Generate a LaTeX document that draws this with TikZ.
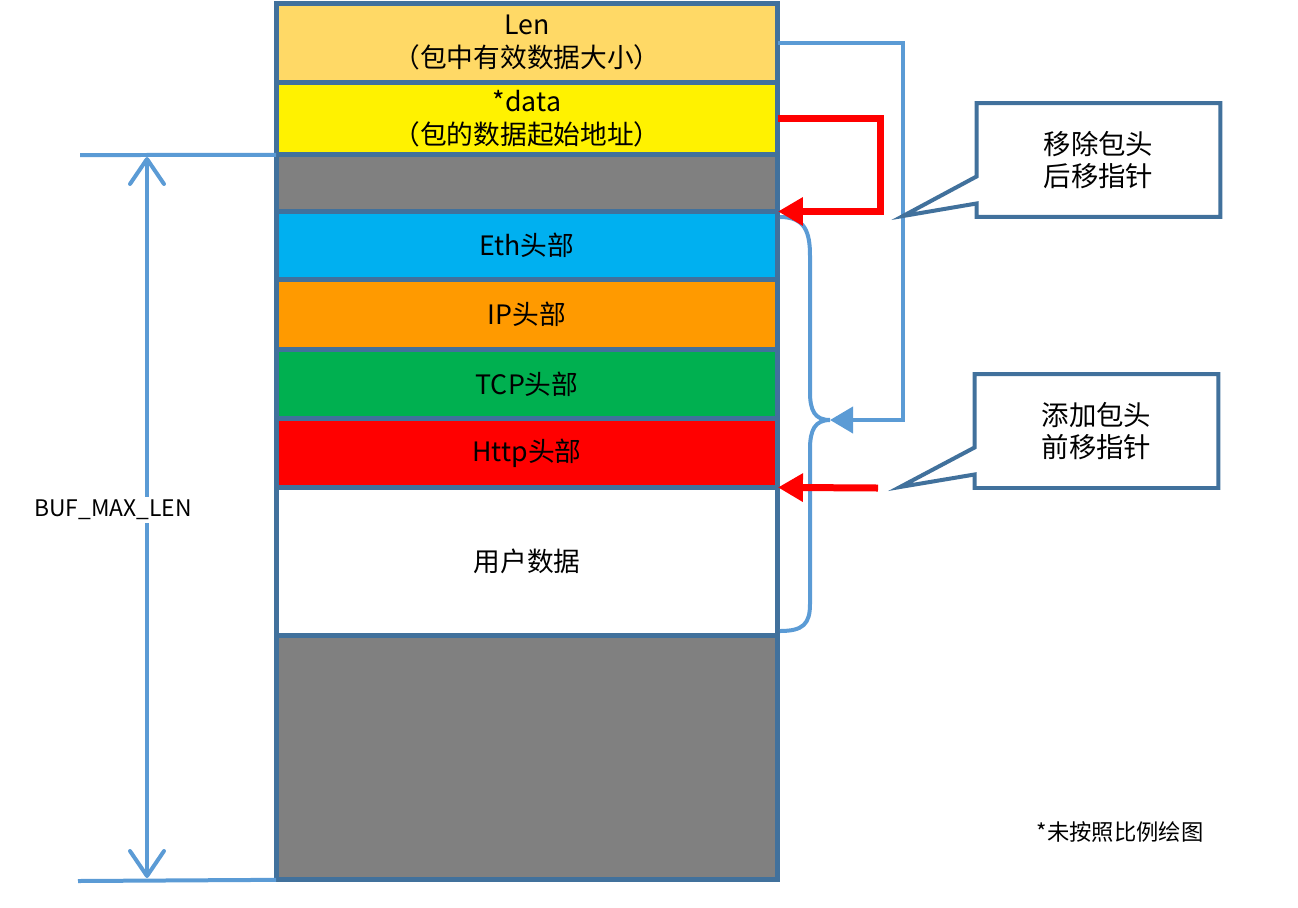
\documentclass[tikz,border=0pt]{standalone}
\usepackage{fontspec}
\setmainfont{Noto Sans CJK SC}
\usepackage{tikz}
\usetikzlibrary{arrows.meta, positioning, shapes.callouts}
\definecolor{borderblue}{RGB}{65, 113, 156}
\definecolor{lineblue}{RGB}{91, 155, 213}
\definecolor{lenfill}{RGB}{255, 217, 102}
\definecolor{ethfill}{RGB}{0, 176, 240}
\definecolor{ipfill}{RGB}{255, 154, 0}
\definecolor{tcpfill}{RGB}{0, 176, 80}
\definecolor{gapgrey}{RGB}{128, 128, 128}

\begin{document}
\begin{tikzpicture}[x=0.02cm, y=-0.02cm,
    block/.style={rectangle, draw=borderblue, line width=0.1cm, minimum width=10.04cm, inner sep=0pt, outer sep=0pt, align=center, font=\fontsize{15.2}{18.7}\selectfont},
    dimline/.style={lineblue, line width=0.08cm},
    dimarrow/.style={dimline, {Straight Barb[length=0.5cm, width=0.68cm, round]}-{Straight Barb[length=0.5cm, width=0.68cm, round]}},
    bluearrow/.style={-{Triangle[length=0.46cm, width=0.52cm]}, lineblue, line width=0.08cm},
    redarrow/.style={-{Triangle[length=0.5cm, width=0.54cm]}, red, line width=0.14cm, line join=miter},
    note/.style={rectangle callout, draw=borderblue, fill=white, line width=0.08cm, minimum width=4.88cm, minimum height=2.28cm, callout pointer width=0.54cm, align=center, font=\fontsize{15.6}{18.7}\selectfont}
]
\useasboundingbox (0,0) rectangle (1298,907);

\node (LEN)  [block, fill=lenfill, minimum height=1.59cm] at (527,42.75) {Len\\（包中有效数据大小）};
\node (DATA) [block, fill=yellow, minimum height=1.45cm, below=0pt of LEN] {*data\\（包的数据起始地址）};
\node (GAP)  [block, fill=gapgrey, minimum height=1.13cm, below=0pt of DATA] {};
\node (ETH)  [block, fill=ethfill, minimum height=1.37cm, below=0pt of GAP] {Eth头部};
\node (IP)   [block, fill=ipfill, minimum height=1.39cm, below=0pt of ETH] {IP头部};
\node (TCP)  [block, fill=tcpfill, minimum height=1.39cm, below=0pt of IP] {TCP头部};
\node (HTTP) [block, fill=red, minimum height=1.37cm, below=0pt of TCP] {Http头部};
\node (USER) [block, fill=white, minimum height=2.96cm, below=0pt of HTTP] {用户数据};
\node (REST) [block, fill=gapgrey, minimum height=4.89cm, below=0pt of USER] {};

\coordinate (DIMTOP) at (80,155);
\coordinate (DIMBOT) at (78,881);
\coordinate (DIMA) at (147,157);
\coordinate (DIMB) at (147,878);
\draw [dimline] (DIMTOP) -- (GAP.north west);
\draw [dimline] (DIMBOT) -- (REST.south west);
\draw [dimarrow] (DIMA) -- (DIMB);
\node (BUFLEN) [fill=white, inner sep=2pt, font=\fontsize{13}{15}\selectfont] at (113,510) {BUF\_MAX\_LEN};

\coordinate (TIP) at (830,420);
\coordinate (CORNER) at (903,420);
\draw [bluearrow] (LEN.east) -| (CORNER) -- (TIP);
\draw [dimline] (780,217) .. controls (805,217) and (810,232) .. (810,256) -- (810,392)
    .. controls (810,411) and (815,420) .. (TIP)
    .. controls (815,420) and (810,430) .. (810,449) -- (810,604)
    .. controls (810,624) and (803,631) .. (780,631);

\coordinate (RBEND) at (880,165);
\coordinate (ADDSTART) at (878,488);
\draw [redarrow] (DATA.east) -| (RBEND) |- (ETH.north east);
\draw [redarrow] (ADDSTART) -- (USER.north east);

\coordinate (REMOVETIP) at (903,216);
\coordinate (ADDTIP) at (900,487);
\node (REMOVE) [note, callout absolute pointer={(REMOVETIP)}] at (1098.5,160) {移除包头\\后移指针};
\node (ADD)    [note, callout absolute pointer={(ADDTIP)}] at (1096.5,431) {添加包头\\前移指针};

\node (SCALE) [font=\fontsize{12.7}{15}\selectfont] at (1120,832) {*未按照比例绘图};

\end{tikzpicture}
\end{document}
